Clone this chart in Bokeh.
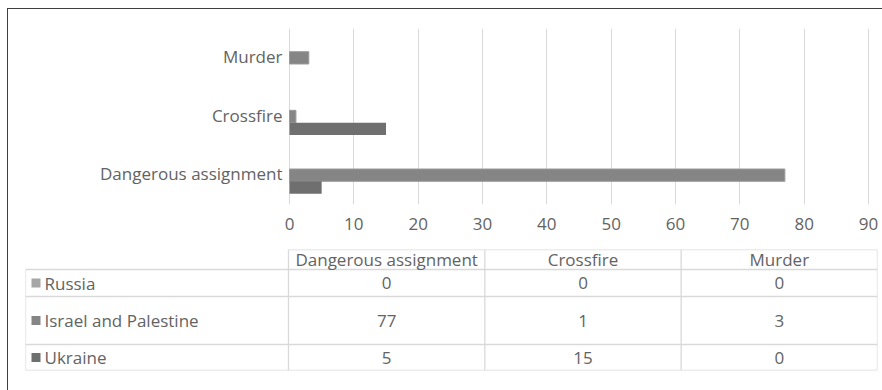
from bokeh.plotting import figure
from bokeh.layouts import column
from bokeh.models import Range1d, FactorRange, ColumnDataSource, FixedTicker
from bokeh.transform import dodge
from bokeh.core.properties import value
from bokeh.embed import file_html
from bokeh.resources import INLINE

# ---- data ----
categories = ["Dangerous assignment", "Crossfire", "Murder"]
series = ["Russia", "Israel and Palestine", "Ukraine"]
russia = [0, 0, 0]
israel = [77, 1, 3]
ukraine = [5, 15, 0]
x_ticks = [0, 10, 20, 30, 40, 50, 60, 70, 80, 90]

colors = {"Russia": "#a6a6a6", "Israel and Palestine": "#858585", "Ukraine": "#6f6f6f"}
FONT = "Open Sans"
FS = "17px"
TXT = "#636363"
GRID = "#d9d9d9"

# frame geometry (pixels): both figures share a frame from page x=25 to x=877
FRAME_L, FRAME_R = 25, 877
AX0, AX1 = 289, 868          # where 0 and 90 fall
ppu = (AX1 - AX0) / (x_ticks[-1] - x_ticks[0])
xr = Range1d(x_ticks[0] - (AX0 - FRAME_L) / ppu, x_ticks[-1] + (FRAME_R - AX1) / ppu)

# ---- chart ----
p = figure(width=874, height=229, output_backend="svg", toolbar_location=None,
           x_range=xr, y_range=FactorRange(factors=categories),
           min_border_left=17, min_border_right=5, min_border_top=19, min_border_bottom=34)
p.outline_line_color = None
p.border_fill_color = "white"

src = ColumnDataSource(dict(cat=categories, russia=russia, israel=israel, ukraine=ukraine))
bh = 0.21
p.hbar(y=dodge("cat", bh, range=p.y_range), right="russia", left=0, height=bh, source=src,
       fill_color=colors["Russia"], line_color=None)
p.hbar(y=dodge("cat", 0, range=p.y_range), right="israel", left=0, height=bh, source=src,
       fill_color=colors["Israel and Palestine"], line_color="#9a9a9a", line_width=1)
p.hbar(y=dodge("cat", -bh, range=p.y_range), right="ukraine", left=0, height=bh, source=src,
       fill_color=colors["Ukraine"], line_color=None)

# category labels
p.text(x=[0] * 3, y=categories, text=categories, x_offset=-7, y_offset=-1.5, text_align="right",
       text_baseline="middle", text_font=value(FONT), text_font_size=FS, text_color=TXT)

p.yaxis.visible = False
p.xaxis.ticker = FixedTicker(ticks=x_ticks)
p.xgrid.ticker = FixedTicker(ticks=x_ticks)
p.xgrid.grid_line_color = GRID
p.ygrid.grid_line_color = None
ax = p.xaxis[0]
ax.axis_line_color = None
ax.major_tick_line_color = None
ax.minor_tick_line_color = None
ax.major_label_text_font = FONT
ax.major_label_text_font_size = FS
ax.major_label_text_color = TXT
ax.major_label_standoff = 7

# ---- table ----
row_heights = [20, 27, 48, 26]   # header, Russia, Israel, Ukraine (layout)
total_h = sum(row_heights)
bounds = [0]
for h in row_heights:
    bounds.append(bounds[-1] + h)
col_w = (FRAME_R - AX0 + 1) / 3.0
label_w = (AX0 - 1 - FRAME_L) / col_w

t = figure(width=874, height=152, output_backend="svg", toolbar_location=None,
           x_range=Range1d(-label_w, 3), y_range=Range1d(total_h, 0),
           min_border_left=17, min_border_right=5, min_border_top=11, min_border_bottom=20)
t.outline_line_color = None
t.axis.visible = False
t.grid.visible = False
t.border_fill_color = "white"

hx0, hx1, hy = [0], [3], [bounds[0]]
for b in bounds[1:]:
    hx0.append(-label_w); hx1.append(3); hy.append(b)
t.segment(x0=hx0, x1=hx1, y0=hy, y1=hy, line_color=GRID, line_width=1.3)
vx, vy0, vy1 = [-label_w], [bounds[1]], [bounds[-1]]
for c in range(4):
    vx.append(c); vy0.append(bounds[0]); vy1.append(bounds[-1])
t.segment(x0=vx, x1=vx, y0=vy0, y1=vy1, line_color=GRID, line_width=1.3)

t.text(x=[i + 0.5 for i in range(3)], y=[(bounds[0] + bounds[1]) / 2] * 3, text=categories,
       text_align="center", text_baseline="middle", text_font=value(FONT),
       text_font_size=FS, text_color=TXT)

rows = [russia, israel, ukraine]
for r, (name, vals) in enumerate(zip(series, rows)):
    yc = (bounds[r + 1] + bounds[r + 2]) / 2
    t.text(x=[i + 0.5 for i in range(3)], y=[yc] * 3, text=[str(v) for v in vals],
           text_align="center", text_baseline="middle", text_font=value(FONT),
           text_font_size=FS, text_color=TXT)
    t.scatter(x=[-label_w + 10.5 / col_w], y=[yc], marker="square", size=9,
              fill_color=colors[name], line_color=None)
    t.text(x=[-label_w], y=[yc], x_offset=19, text=[name], text_align="left",
           text_baseline="middle", text_font=value(FONT), text_font_size=FS,
           text_color=TXT)

layout = column(p, t, margin=(8, 0, 0, 7),
                styles={"border-top": "1px solid #3f3f3f", "border-left": "1px solid #3f3f3f",
                        "background": "white"})

open("out.html", "w").write(file_html(layout, INLINE))
